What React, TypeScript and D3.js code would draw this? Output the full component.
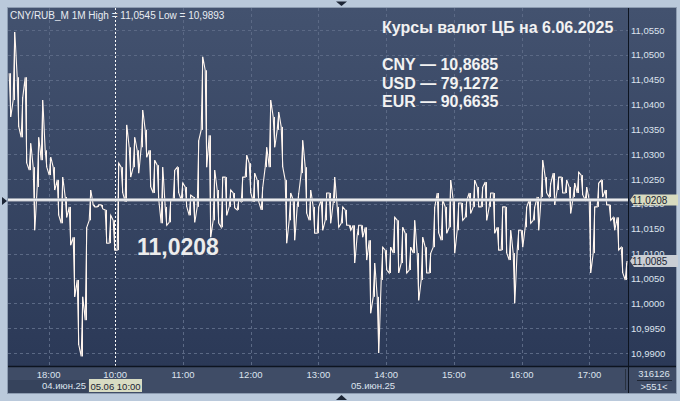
import React from "react";
import * as d3 from "d3";

const W = 680;
const H = 401;

// Price data: each entry aggregates ~3.5 one-minute bars (high / low of the span)
const priceHigh = [
  11.0463, 11.0546, 11.0455, 11.0415, 11.0455, 11.0322, 11.0274, 11.0334, 11.0409, 11.0308,
  11.0294, 11.0274, 11.0248, 11.0254, 11.0214, 11.0194, 11.0133, 11.0047, 11.0013, 11.0153,
  11.0228, 11.0198, 11.0198, 11.0198, 11.0188, 11.0177, 11.0167, 11.0282, 11.0274, 11.0359,
  11.0314, 11.0334, 11.0308, 11.0389, 11.0349, 11.0308, 11.0288, 11.0278, 11.0274, 11.0194,
  11.0208, 11.0268, 11.0274, 11.0242, 11.0234, 11.0218, 11.0214, 11.0328, 11.0496, 11.0469,
  11.0338, 11.0268, 11.0228, 11.0254, 11.0254, 11.0228, 11.0222, 11.0208, 11.0254, 11.0298,
  11.0282, 11.0262, 11.0248, 11.0234, 11.0314, 11.0409, 11.0375, 11.0385, 11.0355, 11.0248,
  11.0222, 11.0208, 11.0222, 11.0328, 11.0274, 11.0228, 11.0194, 11.0194, 11.0208, 11.0222,
  11.0222, 11.0254, 11.0194, 11.0194, 11.0188, 11.0157, 11.0157, 11.0157, 11.0157, 11.0153,
  11.0127, 11.0081, 11.0013, 11.0113, 11.0107, 11.0113, 11.0173, 11.0167, 11.0153, 11.0141,
  11.0113, 11.0167, 11.0101, 11.0133, 11.0113, 11.0101, 11.0194, 11.0222, 11.0208, 11.0194,
  11.0248, 11.0208, 11.0202, 11.0202, 11.0208, 11.0222, 11.0248, 11.0234, 11.0234, 11.0244,
  11.0222, 11.0222, 11.0153, 11.0194, 11.0194, 11.0147, 11.0101, 11.0147, 11.0147, 11.0194,
  11.0208, 11.0194, 11.0214, 11.0288, 11.0254, 11.0242, 11.0262, 11.0254, 11.0254, 11.0248,
  11.0234, 11.0242, 11.0264, 11.0258, 11.0234, 11.0208, 11.0194, 11.0242, 11.0248, 11.0228,
  11.0198, 11.0173, 11.0173, 11.0113, 11.0081,
];
const priceLow = [
  11.0375, 11.0409, 11.0355, 11.0334, 11.0282, 11.0268, 11.0147, 11.0234, 11.0288, 11.0274,
  11.0258, 11.0228, 11.0177, 11.0161, 11.0173, 11.0117, 11.0013, 10.9916, 10.9893, 10.9966,
  11.0167, 11.0194, 11.0194, 11.0190, 11.0121, 11.0121, 11.0107, 11.0107, 11.0222, 11.0204,
  11.0254, 11.0274, 11.0262, 11.0314, 11.0294, 11.0234, 11.0222, 11.0208, 11.0161, 11.0157,
  11.0163, 11.0208, 11.0222, 11.0208, 11.0194, 11.0177, 11.0163, 11.0194, 11.0349, 11.0274,
  11.0133, 11.0167, 11.0161, 11.0153, 11.0177, 11.0194, 11.0192, 11.0188, 11.0204, 11.0254,
  11.0222, 11.0204, 11.0204, 11.0188, 11.0274, 11.0274, 11.0314, 11.0349, 11.0274, 11.0121,
  11.0167, 11.0127, 11.0194, 11.0262, 11.0181, 11.0167, 11.0141, 11.0141, 11.0147, 11.0167,
  11.0161, 11.0202, 11.0153, 11.0161, 11.0157, 11.0147, 11.0081, 11.0137, 11.0133, 11.0087,
  10.9980, 11.0013, 10.9900, 11.0047, 11.0067, 11.0061, 11.0101, 11.0061, 11.0081, 11.0061,
  11.0067, 11.0101, 11.0006, 11.0047, 11.0061, 11.0061, 11.0113, 11.0141, 11.0127, 11.0141,
  11.0153, 11.0101, 11.0147, 11.0167, 11.0173, 11.0181, 11.0194, 11.0194, 11.0194, 11.0167,
  11.0194, 11.0141, 11.0107, 11.0107, 11.0101, 11.0087, 11.0000, 11.0107, 11.0113, 11.0153,
  11.0161, 11.0167, 11.0147, 11.0214, 11.0222, 11.0214, 11.0198, 11.0228, 11.0222, 11.0222,
  11.0181, 11.0214, 11.0222, 11.0218, 11.0208, 11.0061, 11.0101, 11.0194, 11.0214, 11.0198,
  11.0167, 11.0147, 11.0107, 11.0061, 11.0047,
];
const lastClose = 11.0085;
const levelValue = 11.0208;
const sessionHigh = 11.0545;
const sessionLow = 10.9893;
const totalBars = 551;

const yTickValues = [
  10.99, 10.995, 11.0, 11.005, 11.01, 11.015, 11.02, 11.025, 11.03, 11.035, 11.04, 11.045, 11.05, 11.055,
];
const timeTickLabels = ["18:00", "10:00", "11:00", "12:00", "13:00", "14:00", "15:00", "16:00", "17:00"];
const timeTickBars = [36, 95, 155, 215, 275, 335, 395, 455, 515];
const daySeparatorBar = 95;
const dayLabels = ["04.июн.25", "05.июн.25"];
const cursorLabel = "05.06 10:00";
const cbTitle = "Курсы валют ЦБ на 6.06.2025";
const cbCodes = ["CNY", "USD", "EUR"];
const cbRates = ["10,8685", "79,1272", "90,6635"];
const instrument = "CNY/RUB_M 1M";
const counterTop = "316126";
const counterBottom = ">551<";

const fmt = (v: number) => v.toFixed(4).replace(".", ",");

export default function App() {
  const panelL = 8, panelT = 8, panelR = 676, panelB = 393;
  const plotL = 8, plotR = 628, plotT = 8, plotB = 366;

  const y = d3.scaleLinear().domain([10.99, 11.055]).range([353, 30]);
  const xCol = d3.scaleLinear().domain([0, priceHigh.length]).range([plotL, plotR]);
  const xBar = d3.scaleLinear().domain([0, totalBars]).range([8, 630]);

  // build zigzag path of the price line
  const pts: [number, number][] = [];
  let prev: number | null = null;
  priceHigh.forEach((h, i) => {
    const l = priceLow[i];
    let first = h, second = l;
    if (prev !== null && Math.abs(prev - l) < Math.abs(prev - h)) {
      first = l;
      second = h;
    }
    pts.push([xCol(i + 0.3), y(first)], [xCol(i + 0.7), y(second)]);
    prev = second;
  });
  pts.push([xCol(priceHigh.length) - 1, y(lastClose)]);
  const linePath = d3.line<[number, number]>().x((d) => d[0]).y((d) => d[1])(pts) || "";

  const font = "Arial, 'Liberation Sans', sans-serif";
  const axisText = "#dde3ee";
  const gridColor = "#5b6985";

  const lvlY = y(levelValue);
  const lastY = y(lastClose);

  return (
    <svg width={W} height={H} style={{ position: "absolute", left: 0, top: 0, display: "block" }}>
      <defs>
        <linearGradient id="bg" x1="0" y1="0" x2="0" y2="1">
          <stop offset="0" stopColor="#43526f" />
          <stop offset="1" stopColor="#2b3957" />
        </linearGradient>
        <clipPath id="plotClip">
          <rect x={plotL} y={plotT} width={plotR - plotL} height={plotB - plotT} />
        </clipPath>
      </defs>
      {/* outer frame */}
      <rect x={0} y={0} width={W} height={H} fill="#bac9db" />
      <rect x={panelL - 1} y={panelT - 1} width={panelR - panelL + 2} height={panelB - panelT + 2} fill="#8d9cb1" />
      {/* panel */}
      <rect x={panelL} y={panelT} width={panelR - panelL} height={plotB - panelT} fill="url(#bg)" />
      <rect x={panelL} y={plotB} width={panelR - panelL} height={panelB - plotB} fill="#3f4c66" />
      <rect x={panelL} y={380} width={80} height={13} fill="#36435c" />

      {/* grid */}
      {yTickValues.map((v) => (
        <line key={"gy" + v} x1={plotL} x2={plotR} y1={Math.round(y(v)) + 0.5} y2={Math.round(y(v)) + 0.5}
          stroke={gridColor} strokeDasharray="3,3" />
      ))}
      {timeTickBars.map((b, i) =>
        b === daySeparatorBar ? null : (
          <line key={"gx" + i} x1={Math.round(xBar(b)) + 0.5} x2={Math.round(xBar(b)) + 0.5} y1={plotT} y2={plotB}
            stroke={gridColor} strokeDasharray="3,3" />
        )
      )}
      <line x1={Math.round(xBar(daySeparatorBar)) + 0.5} x2={Math.round(xBar(daySeparatorBar)) + 0.5} y1={plotT} y2={plotB}
        stroke="#ffffff" strokeDasharray="2,2" />

      {/* price line */}
      <g clipPath="url(#plotClip)">
        {priceHigh.map((h, i) => (
          <line key={"v" + i} x1={Math.round(xCol(i + 0.5)) + 0.5} x2={Math.round(xCol(i + 0.5)) + 0.5}
            y1={y(h)} y2={y(priceLow[i])} stroke="#fff5ee" strokeWidth={1} />
        ))}
        <path d={linePath} fill="none" stroke="#fff5ee" strokeWidth={1.1} strokeLinejoin="miter" />
      </g>

      {/* level line */}
      <line x1={plotL} x2={plotR} y1={lvlY} y2={lvlY} stroke="#b9bcc4" strokeWidth={3.2} />
      <line x1={plotL} x2={plotR} y1={lvlY} y2={lvlY} stroke="#ffffff" strokeWidth={1.2} />

      {/* header */}
      <text x={10} y={18.5} fontFamily={font} fontSize={10} fill="#e8ecf2">
        {`${instrument} High = ${fmt(sessionHigh)} Low = ${fmt(sessionLow)}`}
      </text>

      {/* CB rates */}
      <text x={382} y={33} fontFamily={font} fontSize={16} fontWeight="bold" fill="#f2f2f2">{cbTitle}</text>
      {cbCodes.map((c, i) => (
        <text key={c} x={382} y={70 + i * 18.5} fontFamily={font} fontSize={16} fontWeight="bold" fill="#f2f2f2">
          {`${c} — ${cbRates[i]}`}
        </text>
      ))}

      {/* big level text */}
      <text x={137} y={255} fontFamily={font} fontSize={23} fontWeight="bold" fill="#ececec">{fmt(levelValue)}</text>

      {/* axis dividers */}
      <line x1={plotR + 0.5} x2={plotR + 0.5} y1={panelT} y2={panelB} stroke="#0d1420" strokeWidth={1} />
      <line x1={panelL} x2={panelR} y1={plotB + 0.5} y2={plotB + 0.5} stroke="#0d1420" strokeWidth={1.5} />
      <line x1={625.5} x2={625.5} y1={369} y2={390} stroke="#28313f" />

      {/* y axis labels */}
      {yTickValues.map((v) => (
        <text key={"ty" + v} x={631} y={y(v) + 3.5} fontFamily={font} fontSize={9.5} fill={axisText}>{fmt(v)}</text>
      ))}

      {/* level label box */}
      <polygon points={`${plotR + 2},${lvlY} ${plotR + 6},${lvlY - 5.5} ${panelR + 2},${lvlY - 5.5} ${panelR + 2},${lvlY + 5.5} ${plotR + 6},${lvlY + 5.5}`}
        fill="#d8dbbf" />
      <text x={632} y={lvlY + 4} fontFamily={font} fontSize={10} fill="#1b2433">{fmt(levelValue)}</text>
      <polygon points={`${plotR + 2},${lastY} ${plotR + 6},${lastY - 6} ${panelR + 2},${lastY - 6} ${panelR + 2},${lastY + 6} ${plotR + 6},${lastY + 6}`}
        fill="#c9cdd4" />
      <text x={632} y={lastY + 4} fontFamily={font} fontSize={10} fill="#1b2433">{fmt(lastClose)}</text>

      {/* x axis labels */}
      {timeTickBars.map((b, i) => (
        <text key={"tx" + i} x={xBar(b)} y={377.5} textAnchor="middle" fontFamily={font} fontSize={9.5} fill={axisText}>
          {timeTickLabels[i]}
        </text>
      ))}
      <text x={42} y={389} fontFamily={font} fontSize={9.5} fill={axisText}>{dayLabels[0]}</text>
      <text x={351} y={389} fontFamily={font} fontSize={9.5} fill={axisText}>{dayLabels[1]}</text>
      <rect x={89} y={379} width={53} height={13} fill="#d8dcc3" />
      <text x={115.5} y={389.5} textAnchor="middle" fontFamily={font} fontSize={9.5} fill="#1b2433">{cursorLabel}</text>

      {/* bottom right counter */}
      <text x={654} y={376.5} textAnchor="middle" fontFamily={font} fontSize={9.5} fill={axisText}>{counterTop}</text>
      <line x1={637} x2={672} y1={380.5} y2={380.5} stroke="#1d2533" />
      <text x={654} y={390} textAnchor="middle" fontFamily={font} fontSize={9.5} fill={axisText}>{counterBottom}</text>

      {/* frame markers */}
      <polygon points="336,1.5 347,1.5 341.5,6" fill="#1c2535" />
      <polygon points="336,400 347,400 341.5,395" fill="#1c2535" />
      <polygon points="2,197 2,205 7,201" fill="#1c2535" />
    </svg>
  );
}
